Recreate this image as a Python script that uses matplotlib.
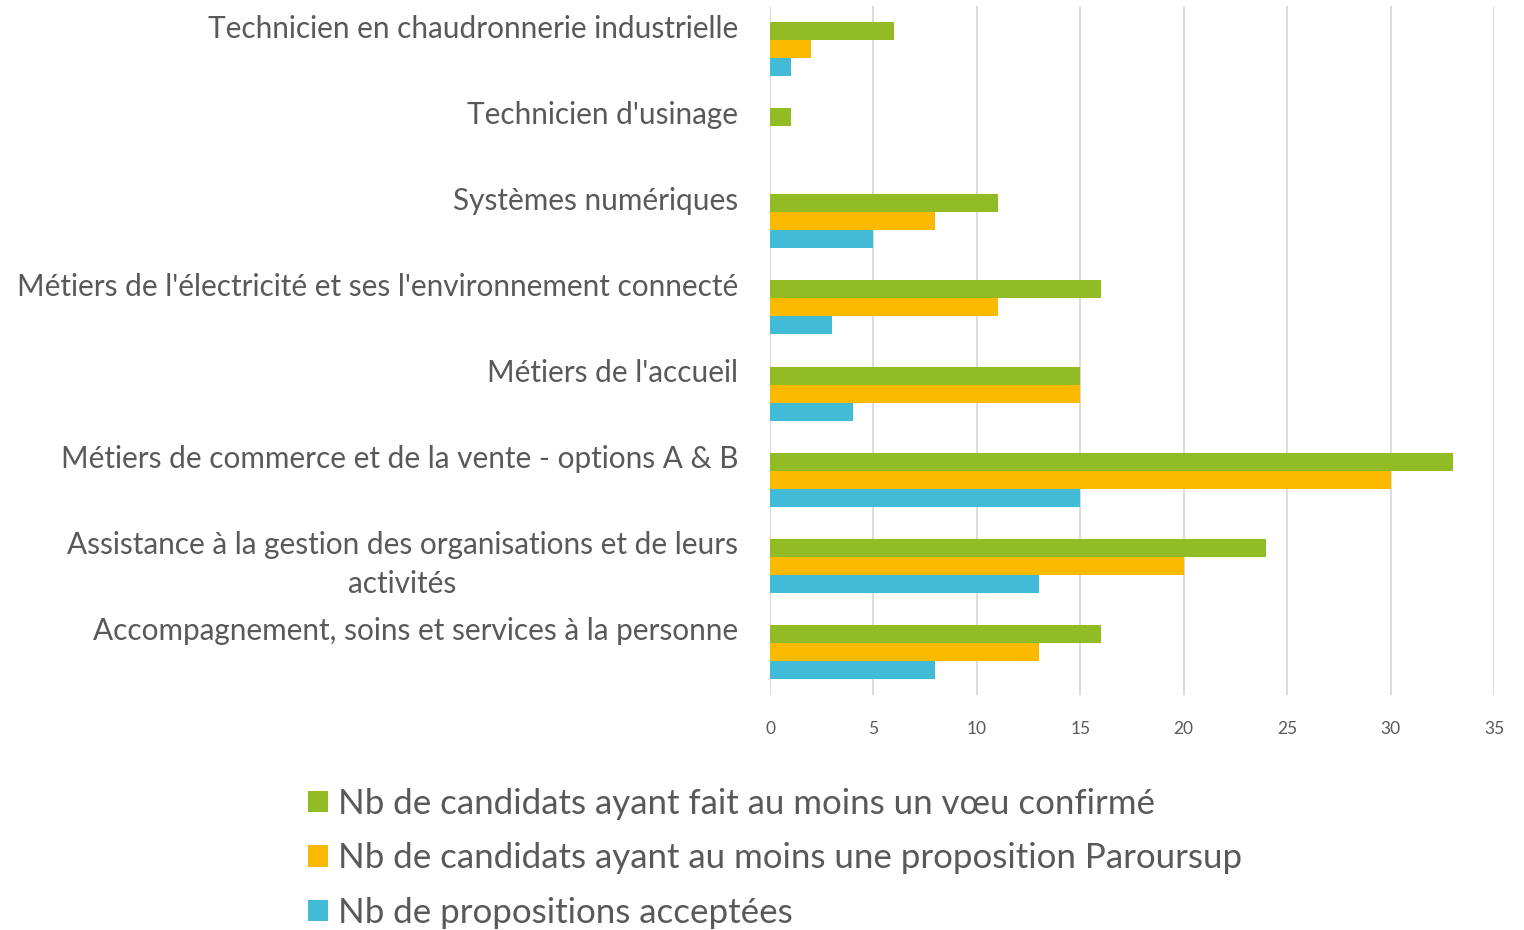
import matplotlib
matplotlib.use("Agg")
import matplotlib.pyplot as plt
import matplotlib.transforms as mtransforms
import numpy as np
from matplotlib.patches import Patch

plt.rcParams['font.family'] = ['Lato', 'DejaVu Sans']

categories = [
    "Technicien en chaudronnerie industrielle",
    "Technicien d'usinage",
    "Systèmes numériques",
    "Métiers de l'électricité et ses l'environnement connecté",
    "Métiers de l'accueil",
    "Métiers de commerce et de la vente - options A & B",
    "Assistance à la gestion des organisations et de leurs\nactivités",
    "Accompagnement, soins et services à la personne",
]
voeux = [6, 1, 11, 16, 15, 33, 24, 16]
propositions = [2, 0, 8, 11, 15, 30, 20, 13]
acceptees = [1, 0, 5, 3, 4, 15, 13, 8]
series_names = [
    "Nb de candidats ayant fait au moins un vœu confirmé",
    "Nb de candidats ayant au moins une proposition Paroursup",
    "Nb de propositions acceptées",
]
xticks = [0, 5, 10, 15, 20, 25, 30, 35]

colors = ['#92BC25', '#FBB900', '#41BBD6']
text_color = '#595959'

fig = plt.figure(figsize=(15.24, 9.3), dpi=100)
ax = fig.add_axes([770/1524, 1-695/930, 724/1524, 689/930])

y = np.arange(len(categories))
h = 0.209
for i, (vals, c) in enumerate(zip([voeux, propositions, acceptees], colors)):
    ax.barh(y + (i - 1) * h, vals, height=h, color=c, label=series_names[i], zorder=3)

ax.set_ylim(len(categories) - 0.5, -0.5)
ax.set_xlim(0, 35)
ax.set_xticks(xticks)
ax.set_xticklabels([str(t) for t in xticks], fontsize=12.5, color=text_color)
ax.tick_params(axis='x', length=0, pad=19)
ax.tick_params(axis='y', length=0, pad=23)
labels = [c if '\n' in c else c + '\n' for c in categories]
ax.set_yticks(y)
ax.set_yticklabels(labels, fontsize=21.4, color=text_color, multialignment='center',
                   linespacing=1.45)
shift = mtransforms.ScaledTranslation(0, 9/100, fig.dpi_scale_trans)
for lab in ax.get_yticklabels():
    lab.set_transform(lab.get_transform() + shift)
ax.grid(axis='x', color='#D9D9D9', linewidth=1.3, zorder=0)
for s in ax.spines.values():
    s.set_visible(False)

handles = [Patch(facecolor=c, edgecolor='none') for c in colors]
fig.legend(handles, series_names, loc='upper left', bbox_to_anchor=(308/1524, 1-788/930),
           frameon=False, fontsize=25.1, labelcolor=text_color, handlelength=0.57,
           handleheight=0.57, handletextpad=0.3, labelspacing=0.64, borderaxespad=0,
           borderpad=0)

fig.savefig('out.png', dpi=100)
